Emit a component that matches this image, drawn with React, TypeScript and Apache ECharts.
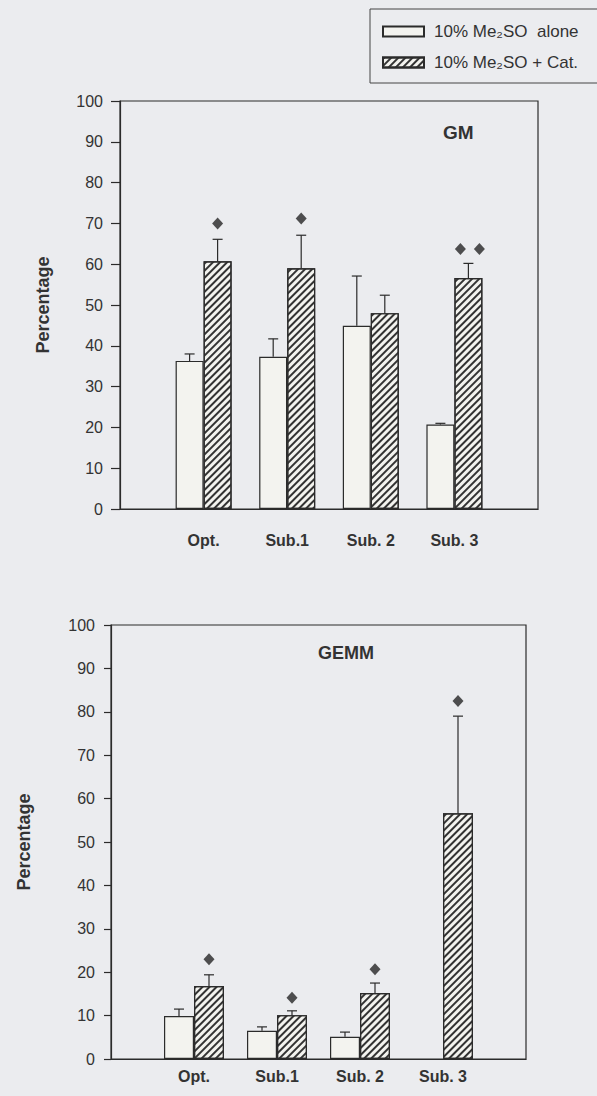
import React, { useEffect, useRef } from "react";
import * as echarts from "echarts";

// ---- data ----
const categories = ["Opt.", "Sub.1", "Sub. 2", "Sub. 3"];
const seriesNames = ["10% Me₂SO  alone", "10% Me₂SO + Cat."];

// GM panel
const gmAlone = [36.3, 37.3, 44.9, 20.7];
const gmAloneErrTop = [38.0, 41.7, 57.1, 21.0];
const gmCat = [60.7, 59.0, 48.0, 56.6];
const gmCatErrTop = [66.1, 67.1, 52.4, 60.2];
const gmMarkY = [70.0, 71.2, null, 63.7];
const gmMarkCount = [1, 1, 0, 2];

// GEMM panel
const gemmAlone = [9.9, 6.5, 5.1, null];
const gemmAloneErrTop = [11.5, 7.4, 6.2, null];
const gemmCat = [16.8, 10.1, 15.2, 56.6];
const gemmCatErrTop = [19.4, 11.1, 17.5, 79.0];
const gemmMarkY = [23.0, 14.1, 20.7, 82.5];
const gemmMarkCount = [1, 1, 1, 1];

const yTicks = { min: 0, max: 100, interval: 10 };

const INK = "#2b2b2b";
const BG = "#ebecef";
const BAR_BG = "#f3f3ef";
const hatch = {
  symbol: "rect",
  symbolSize: 1,
  dashArrayX: [1, 0],
  dashArrayY: [1.3, 2.3],
  rotation: -Math.PI / 4,
  color: "#333333",
};

function App() {
  const ref = useRef<HTMLDivElement>(null);
  useEffect(() => {
    document.body.style.margin = "0";
    const chart = echarts.init(ref.current!, null, { renderer: "svg" });

    const panels = [
      { alone: gmAlone, aloneErr: gmAloneErrTop, cat: gmCat, catErr: gmCatErrTop, markY: gmMarkY, markCount: gmMarkCount, bw: 28 },
      { alone: gemmAlone, aloneErr: gemmAloneErrTop, cat: gemmCat, catErr: gemmCatErrTop, markY: gemmMarkY, markCount: gemmMarkCount, bw: 30 },
    ];

    const series: any[] = [];
    panels.forEach((p, gi) => {
      const xs = categories.map((_, i) => i + 1);
      series.push({
        type: "bar",
        name: seriesNames[0],
        xAxisIndex: gi,
        yAxisIndex: gi,
        barWidth: p.bw,
        barGap: "0%",
        itemStyle: { color: BAR_BG, borderColor: INK, borderWidth: 1.2 },
        data: xs.map((x, i) => [x, p.alone[i] == null ? "-" : p.alone[i]]),
      });
      series.push({
        type: "bar",
        name: seriesNames[1],
        xAxisIndex: gi,
        yAxisIndex: gi,
        barWidth: p.bw,
        barGap: "0%",
        itemStyle: { color: BAR_BG, borderColor: INK, borderWidth: 1.2, decal: hatch },
        data: xs.map((x, i) => [x, p.cat[i]]),
      });
      const errData: any[] = [];
      xs.forEach((x, i) => {
        if (p.alone[i] != null) errData.push([x, p.alone[i], p.aloneErr[i], -1]);
        errData.push([x, p.cat[i], p.catErr[i], 1]);
      });
      const bw = p.bw;
      series.push({
        type: "custom",
        xAxisIndex: gi,
        yAxisIndex: gi,
        z: 5,
        silent: true,
        encode: { x: 0, y: 2 },
        data: errData,
        renderItem: (params: any, api: any) => {
          const x = api.value(0);
          const p0 = api.coord([x, api.value(1)]);
          const p1 = api.coord([x, api.value(2)]);
          const cx = p0[0] + api.value(3) * bw / 2;
          const st = { stroke: INK, lineWidth: 1.2 };
          return {
            type: "group",
            children: [
              { type: "line", shape: { x1: cx, y1: p0[1], x2: cx, y2: p1[1] }, style: st },
              { type: "line", shape: { x1: cx - 5, y1: p1[1], x2: cx + 5, y2: p1[1] }, style: st },
            ],
          };
        },
      });
      const markData: any[] = [];
      xs.forEach((x, i) => {
        const n = p.markCount[i];
        const y = p.markY[i];
        if (!n || y == null) return;
        for (let k = 0; k < n; k++) {
          const off = n === 1 ? bw / 2 : bw / 2 + 1.5 + (k - (n - 1) / 2) * 19;
          markData.push({ value: [x, y], symbolOffset: [off, 0] });
        }
      });
      series.push({
        type: "scatter",
        xAxisIndex: gi,
        yAxisIndex: gi,
        symbol: "diamond",
        symbolSize: [11, 12],
        itemStyle: { color: "#262626" },
        silent: true,
        z: 6,
        data: markData,
      });
    });

    const grids = [
      { left: 120, top: 101, width: 418, height: 408 },
      { left: 111, top: 625, width: 415, height: 434 },
    ];

    const option: any = {
      animation: false,
      backgroundColor: BG,
      textStyle: { fontFamily: "Liberation Sans, Arial, sans-serif", color: "#333" },
      title: [
        { text: "GM", left: 443, top: 123, padding: 0, textStyle: { fontSize: 19, fontWeight: "bold", color: "#333" } },
        { text: "GEMM", left: 318, top: 644, padding: 0, textStyle: { fontSize: 18, fontWeight: "bold", color: "#333" } },
      ],
      legend: {
        data: seriesNames,
        orient: "vertical",
        left: 370,
        top: 9,
        padding: [14, 40, 12, 12],
        itemGap: 14,
        itemWidth: 41,
        itemHeight: 10,
        icon: "rect",
        borderColor: "#444",
        borderWidth: 1,
        textStyle: { fontSize: 17, color: "#333", padding: [0, 0, 0, 5] },
      },
      grid: grids.map((g) => ({ ...g, show: true, borderColor: INK, borderWidth: 1.2, backgroundColor: "transparent" })),
      xAxis: [0, 1].map((gi) => ({
        type: "value",
        gridIndex: gi,
        min: 0,
        max: 5,
        interval: 1,
        splitLine: { show: false },
        axisTick: { show: false },
        axisLine: { show: true, lineStyle: { color: INK, width: 1.2 } },
        axisLabel: {
          margin: gi === 0 ? 23 : 9,
          fontSize: 16,
          fontWeight: "bold",
          color: "#333",
          formatter: (v: number) => categories[v - 1] ?? "",
        },
      })),
      yAxis: [0, 1].map((gi) => ({
        type: "value",
        gridIndex: gi,
        min: yTicks.min,
        max: yTicks.max,
        interval: yTicks.interval,
        name: "Percentage",
        nameLocation: "middle",
        nameRotate: 90,
        nameGap: gi === 0 ? 68 : 78,
        nameTextStyle: { fontSize: 18, fontWeight: "bold", color: "#333" },
        splitLine: { show: false },
        axisLine: { show: true, lineStyle: { color: INK, width: 1.2 } },
        axisTick: { show: true, length: gi === 0 ? 9 : 7, lineStyle: { color: INK, width: 1.2 } },
        axisLabel: { margin: gi === 0 ? 17 : 16, fontSize: 16, color: "#333" },
      })),
      series,
    };
    chart.setOption(option);
    return () => chart.dispose();
  }, []);
  return <div ref={ref} style={{ width: 597, height: 1096 }} />;
}

export default App;
